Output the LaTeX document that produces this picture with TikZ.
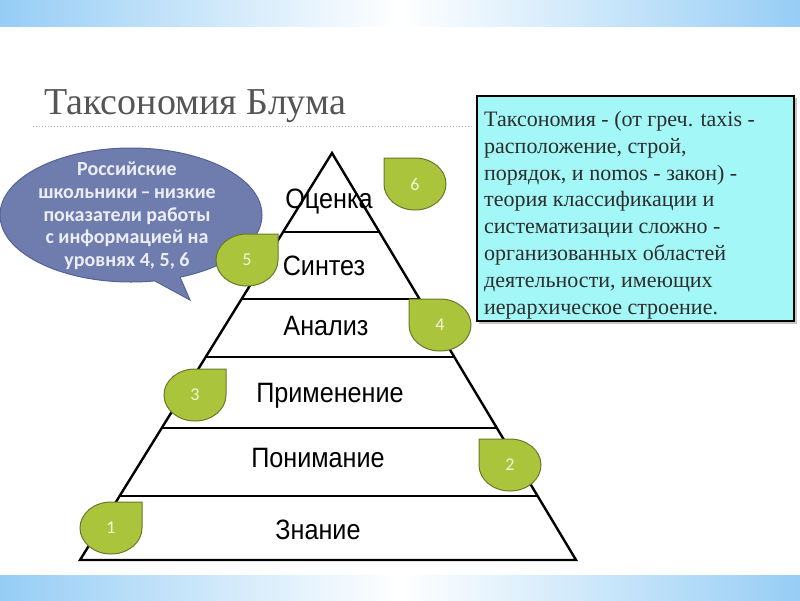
\documentclass[tikz,border=0pt]{standalone}
\usepackage{fontspec}
\setmainfont{Liberation Serif}
\newfontfamily\pyrfont[FakeStretch=0.9]{Liberation Sans}
\newfontfamily\callfont{Carlito}
\usetikzlibrary{calc}
\definecolor{bandblue}{RGB}{150,205,245}
\definecolor{leaf}{RGB}{170,196,60}
\definecolor{leafedge}{RGB}{105,120,40}
\definecolor{leaftext}{RGB}{245,245,215}
\definecolor{callfill}{RGB}{110,124,174}
\definecolor{calledge}{RGB}{85,98,150}
\definecolor{calltext}{RGB}{236,238,246}
\definecolor{boxfill}{RGB}{163,247,247}
\definecolor{titlegray}{RGB}{85,85,85}
\definecolor{textgray}{RGB}{45,45,45}
\tikzset{
  pyr/.style={line width=2.4pt, line join=miter},
  lvl/.style={anchor=base, inner sep=0, font=\pyrfont\fontsize{28}{30}\selectfont},
  badge/.style={fill=leaf, draw=leafedge, line width=1pt},
  num/.style={inner sep=0, text=leaftext, font=\callfont\fontsize{18}{20}\selectfont},
  pics/leafR/.style={code={\path[badge] (31,-26) -- (31,0) .. controls (31,14.4) and (17.1,26) .. (0,26) .. controls (-17.1,26) and (-31,14.4) .. (-31,0) .. controls (-31,-14.4) and (-17.1,-26) .. (0,-26) -- cycle;}},
  pics/leafL/.style={code={\path[badge] (-31,-26) -- (-31,0) .. controls (-31,14.4) and (-17.1,26) .. (0,26) .. controls (17.1,26) and (31,14.4) .. (31,0) .. controls (31,-14.4) and (17.1,-26) .. (0,-26) -- cycle;}},
}
\begin{document}
\begin{tikzpicture}[x=1pt,y=-1pt]
\useasboundingbox (0,0) rectangle (800,600);
\fill[white] (0,0) rectangle (800,600);
% bands
\shade[left color=bandblue, right color=bandblue, middle color=white] (0,0) rectangle (800,26);
\shade[left color=bandblue, right color=bandblue, middle color=white] (0,575) rectangle (800,600);
% title
\node[anchor=base west, inner sep=0, text=titlegray, font=\fontsize{38}{40}\selectfont] (title) at (44,114) {Таксономия Блума};
\coordinate (dl) at (33,126);
\coordinate (dr) at (472,126);
\draw[gray!55, dotted, line width=1pt] (dl) -- (dr);
% callout
\path[fill=callfill, draw=calledge, line width=1pt] (131,215) ellipse [x radius=131pt, y radius=67pt];
\fill[callfill] (155,281) -- (190,300) -- (180,277) -- (178,271) -- (157,275) -- cycle;
\coordinate (tb1) at (155,281);
\coordinate (tip) at (190,300);
\coordinate (tb2) at (180,277);
\draw[calledge, line width=1pt, line join=miter] (tb1) -- (tip) -- (tb2);
\node[align=center, inner sep=0, text=calltext, font=\callfont\bfseries\fontsize{20}{22.7}\selectfont] (calltxt) at (127,216)
  {Российские\\школьники\,–\,низкие\\показатели  работы\\с информацией на\\уровнях 4, 5, 6};
% pyramid
\coordinate (A) at (332,153);
\coordinate (BL) at (80,560);
\coordinate (BR) at (576,560);
\draw[pyr] (A) -- (BL) -- (BR) -- cycle;
\foreach \t [count=\i] in {0.194,0.359,0.501,0.676,0.843}{
  \coordinate (L\i) at ($(A)!\t!(BL)$);
  \coordinate (R\i) at ($(A)!\t!(BR)$);
  \draw[line width=2.2pt] (L\i) -- (R\i);
}
\node[lvl] (ocenka) at (329,208) {Оценка};
\node[lvl] (sintez) at (324,275) {Синтез};
\node[lvl] (analiz) at (326,335) {Анализ};
\node[lvl] (primen) at (330,402) {Применение};
\node[lvl] (ponim) at (318,467) {Понимание};
\node[lvl] (znanie) at (318,539) {Знание};
% badges
\pic at (415,184) {leafL};
\node[num] (b6) at (415,184) {6};
\pic at (247,260) {leafR};
\node[num] (b5) at (247,260) {5};
\pic at (440,325) {leafL};
\node[num] (b4) at (440,325) {4};
\pic at (195,395) {leafR};
\node[num] (b3) at (195,395) {3};
\pic at (510,465) {leafL};
\node[num] (b2) at (510,465) {2};
\pic at (111,528) {leafR};
\node[num] (b1) at (111,528) {1};
% definition box
\fill[gray!45] (479,98) rectangle (797,324);
\node[anchor=north west, draw=black, fill=boxfill, line width=2pt, minimum width=317pt, minimum height=225pt, inner sep=0] (defbox) at (476,95) {};
\node[anchor=north west, align=left, inner sep=0, text=textgray, font=\fontsize{22}{26.8}\selectfont] (deftext) at (484,111)
  {Таксономия - (от греч. taxis -\\расположение, строй,\\порядок, и nomos - закон) -\\теория классификации и\\систематизации сложно -\\организованных областей\\деятельности, имеющих\\иерархическое строение.};
\end{tikzpicture}
\end{document}
